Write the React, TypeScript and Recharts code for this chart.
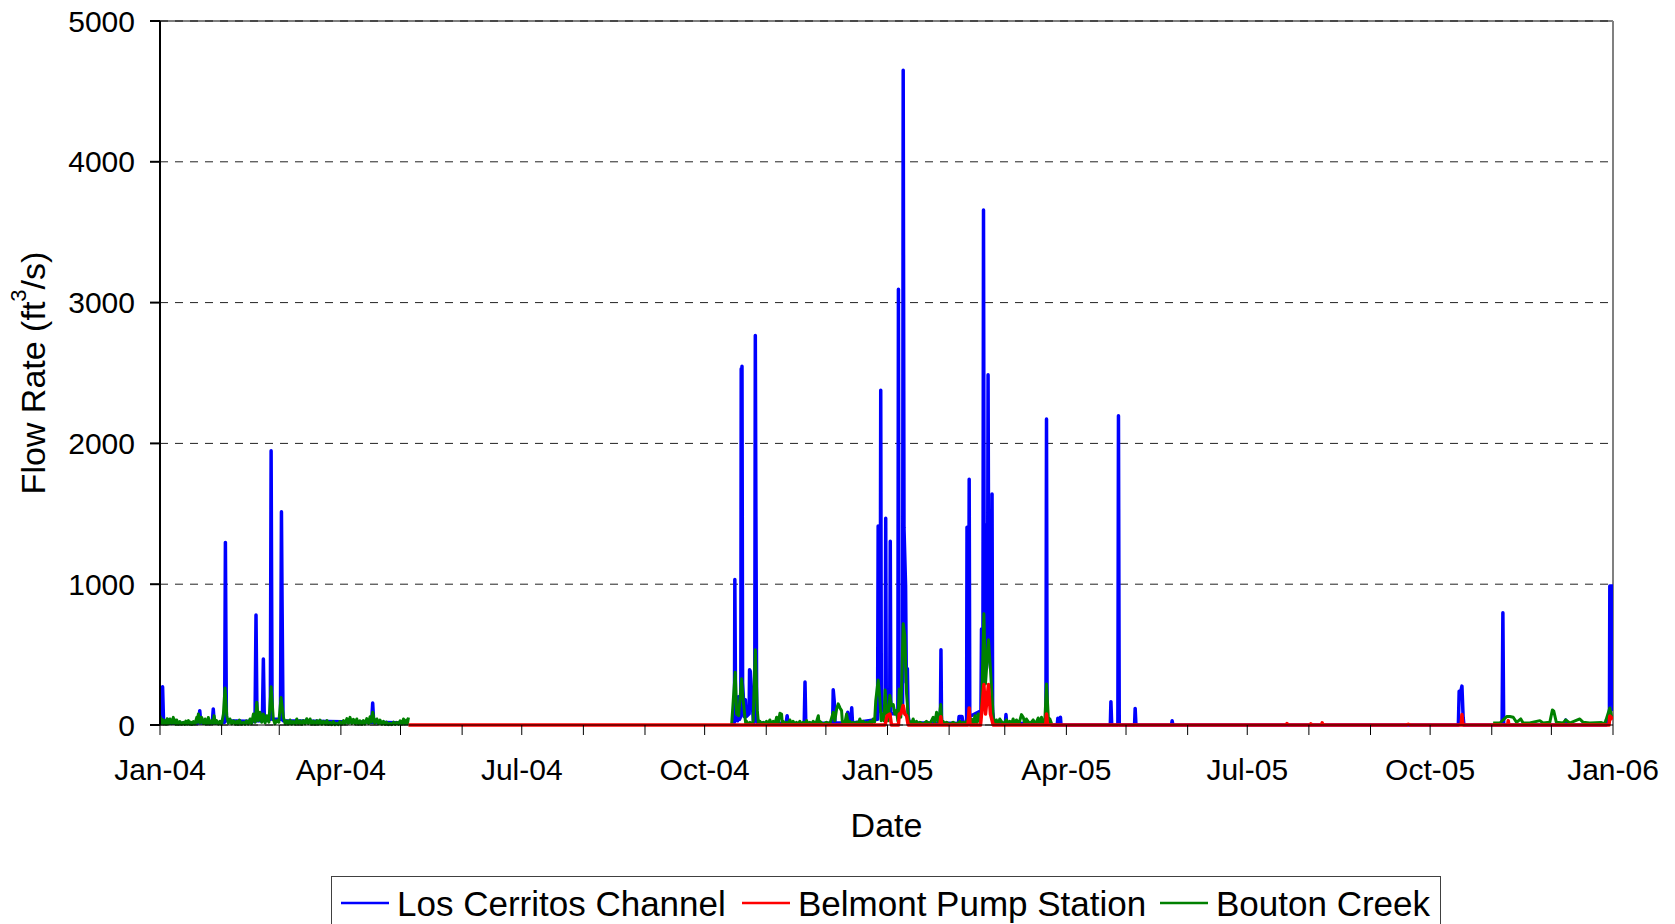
import React from 'react';
import { LineChart, Line, XAxis, YAxis, CartesianGrid, ReferenceLine, Label } from 'recharts';

type P = [number, number | null];

// day offsets from 1 Jan 2004 for month starts
const monthTicks = [0, 31, 60, 91, 121, 152, 182, 213, 244, 274, 305, 335, 366, 397, 425, 456, 486, 517, 547, 578, 609, 639, 670, 700, 731];
const quarterLabels: Record<number, string> = {
  0: 'Jan-04', 91: 'Apr-04', 182: 'Jul-04', 274: 'Oct-04', 366: 'Jan-05',
  456: 'Apr-05', 547: 'Jul-05', 639: 'Oct-05', 731: 'Jan-06',
};
const yTicks = [0, 1000, 2000, 3000, 4000, 5000];
const seriesNames = ['Los Cerritos Channel', 'Belmont Pump Station', 'Bouton Creek'];
const seriesColors = ['#0000FF', '#FF0000', '#008000'];

// Los Cerritos Channel [day, ft3/s]
const losCerritos2004: P[] = [
  [0, 15], [0.9, 15], [1.3, 272], [1.8, 15], [3, 12], [19.5, 15], [20, 102], [20.5, 15], [26.3, 15], [26.8, 114], [27.3, 15],
  [32.5, 20], [32.9, 1297], [33.4, 30], [47.8, 25], [48.3, 781], [48.8, 30], [51.5, 30], [52, 469], [52.5, 30],
  [55.5, 40], [55.9, 1948], [56.4, 40], [60.6, 40], [61.1, 1515], [61.4, 895], [61.9, 30], [106.5, 20], [107, 156],
  [107.5, 20], [125, 15],
];
const losCerritos0405: P[] = [
  [288, 0], [289, 20], [289.2, 1034], [289.6, 40], [290.6, 30], [291, 200], [291.5, 40], [292.2, 60], [292.4, 2530],
  [292.6, 1800], [292.8, 2548], [293.1, 300], [294, 60], [294.5, 180], [295, 60], [296.4, 80], [296.6, 393], [297, 380],
  [298.6, 10], [299.2, 40], [299.5, 2767], [299.8, 1480], [300.2, 60], [300.6, 15], [315, 10], [315.5, 66], [316, 10],
  [324.1, 10], [324.5, 305], [324.9, 10], [338.4, 15], [338.7, 250], [339.2, 170], [339.6, 15], [345.6, 15], [346, 90],
  [346.5, 25], [347.6, 30], [348, 122], [348.4, 15], [361, 40], [361.3, 1414], [361.7, 100], [362.3, 100], [362.6, 2378],
  [362.9, 120], [364.8, 80], [365.1, 1469], [365.4, 100], [367.1, 60], [367.4, 1305], [367.7, 80], [371.2, 80],
  [371.5, 3095], [371.8, 200], [373.6, 150], [373.9, 4650], [374.3, 1400], [375.1, 993], [375.5, 300], [376, 400],
  [376.4, 60], [377, 15], [392.6, 15], [392.9, 535], [393.2, 15], [401.7, 10], [402, 60], [403.5, 60], [404, 10],
  [405.8, 30], [406, 1404], [406.4, 200], [406.8, 300], [407.1, 1746], [407.4, 60], [413, 100], [413.3, 682],
  [413.6, 300], [414, 400], [414.3, 3657], [414.7, 500], [415.3, 1422], [415.7, 400], [416.3, 500], [416.6, 2487],
  [417, 600], [417.5, 1400], [417.9, 400], [418.3, 400], [418.6, 1640], [418.9, 100], [419.5, 15], [425.3, 10],
  [425.6, 74], [426, 10], [445.7, 15], [446, 2173], [446.3, 60], [446.7, 10], [449, 0], [451.4, 0], [451.7, 48],
  [452.1, 0], [452.7, 0], [453, 55], [453.3, 0], [478.1, 0], [478.4, 166], [478.8, 0], [481.9, 0], [482.2, 2197],
  [482.6, 0], [490.3, 0], [490.6, 118], [491, 0], [508.9, 0], [509.2, 30], [509.6, 0], [653.2, 0], [653.6, 240],
  [654.3, 230], [655, 276], [655.6, 55], [656, 0], [675.2, 0], [675.6, 798], [676, 0], [707, 0], [707.2, 36],
  [707.6, 0], [727.5, 0], [727.7, 36], [728, 10], [729.2, 50], [729.4, 988], [730.8, 988], [731, 100],
];

// Belmont Pump Station
const belmont: P[] = [
  [125, 0], [364.8, 0], [365.8, 66], [367.2, 78], [368, 0], [371.5, 0], [371.9, 78], [372.7, 78], [373.9, 138],
  [374.7, 78], [375.6, 66], [376.4, 0], [392.4, 0], [392.8, 59], [393.2, 0], [406.5, 0], [407.1, 121], [407.5, 0],
  [412.8, 0], [413.3, 78], [414.5, 287], [415.3, 78], [416.8, 287], [417.8, 78], [419.2, 0], [445.6, 0], [446, 78],
  [446.5, 0], [566.5, 0], [567, 10], [567.5, 0], [578.6, 0], [579, 8], [579.4, 0], [584.3, 0], [584.7, 15],
  [585.2, 0], [627, 0], [628, 5], [629, 0], [654.6, 0], [655, 74], [655.5, 0], [678, 0], [678.3, 31], [678.6, 0],
  [729, 0], [729.4, 64], [731, 40],
];

// Bouton Creek
const bouton2004: P[] = [
  [0, 66], [0.6, 10], [1.2, 40], [1.9, 8], [2.5, 31], [3.1, 6], [3.6, 45], [4.3, 8], [5, 43], [5.8, 10], [6.7, 54],
  [7.1, 12], [7.5, 35], [8, 6], [8.4, 36], [9.2, 5], [10, 25], [10.8, 6], [11.7, 19], [12.4, 4], [13, 28], [13.7, 6],
  [14.3, 31], [14.9, 5], [15.5, 20], [16.1, 4], [16.8, 24], [17.6, 8], [18.5, 54], [18.9, 20], [19.3, 78], [20.2, 15],
  [21, 54], [21.8, 10], [22.7, 43], [23.1, 8], [23.5, 30], [23.9, 10], [24.3, 54], [25.1, 8], [26, 31], [26.6, 10],
  [27.2, 66], [27.9, 10], [28.5, 31], [29.4, 6], [30.2, 26], [31, 8], [31.9, 78], [32.7, 263], [33.6, 66], [34.4, 12],
  [35.2, 43], [36.1, 8], [37, 30], [37.8, 6], [38.6, 26], [39.3, 5], [40, 35], [41, 6], [42, 19], [42.8, 5], [43.5, 30],
  [44.4, 6], [45.3, 43], [46.1, 10], [47, 78], [47.9, 20], [48.7, 161], [49.5, 30], [50.3, 90], [51.2, 20], [52, 78],
  [52.9, 15], [53.7, 66], [54.8, 20], [55.9, 272], [57, 43], [57.8, 8], [58.7, 31], [59.8, 20], [60.9, 196], [62.1, 54],
  [63, 8], [63.8, 30], [64.6, 6], [65.4, 36], [66.2, 5], [67, 25], [67.9, 6], [68.8, 43], [69.6, 8], [70.5, 30],
  [71.3, 5], [72.1, 31], [73, 8], [73.8, 45], [74.6, 10], [75.5, 43], [76.3, 6], [77.2, 28], [78, 5], [78.9, 31],
  [79.7, 6], [80.5, 35], [81.4, 5], [82.2, 26], [83.1, 5], [84, 32], [84.8, 4], [85.6, 19], [86.4, 3], [87.2, 25],
  [88, 3], [88.9, 12], [89.7, 3], [90.5, 25], [91.4, 5], [92.3, 31], [93.1, 8], [94, 45], [94.8, 12], [95.6, 54],
  [96.5, 10], [97.3, 40], [98.2, 8], [99, 43], [99.8, 6], [100.6, 30], [101.5, 5], [102.3, 31], [103.1, 6], [104, 45],
  [104.9, 10], [105.7, 59], [106.3, 20], [107, 90], [108, 12], [109.1, 43], [109.9, 8], [110.7, 35], [111.6, 5],
  [112.4, 26], [113.2, 4], [114, 20], [114.9, 3], [115.8, 12], [116.6, 3], [117.5, 20], [118.3, 4], [119.1, 19],
  [120, 5], [120.8, 30], [121.7, 6], [122.5, 43], [123.2, 8], [124, 35], [124.5, 10], [125, 54],
];
const bouton0405: P[] = [
  [287.6, 7], [288.4, 173], [289.4, 375], [290.1, 78], [291.1, 66], [292.6, 328], [293.4, 173], [294.3, 55],
  [294.7, 8], [295.1, 26], [296, 5], [296.8, 19], [297.6, 5], [298.4, 26], [299.5, 534], [300.5, 102], [301.1, 10],
  [301.8, 26], [302.7, 5], [303.5, 19], [304.3, 5], [305.1, 26], [306, 6], [306.8, 36], [307.7, 5], [308.5, 26],
  [309.4, 8], [310.2, 55], [311, 12], [311.9, 83], [312.7, 78], [313.1, 10], [313.5, 26], [314.4, 5], [315.2, 19],
  [316, 5], [316.9, 36], [317.7, 6], [318.5, 26], [319.4, 4], [320.2, 19], [321, 4], [321.9, 26], [322.7, 4],
  [323.6, 19], [324.4, 5], [325.3, 31], [326.1, 5], [326.9, 19], [327.8, 4], [328.6, 26], [329.9, 6], [331.2, 66],
  [331.6, 10], [332, 26], [333.6, 5], [335.3, 19], [337, 8], [338.7, 90], [339.5, 30], [340.4, 114], [341.2, 150],
  [342.1, 121], [342.9, 102], [343.3, 20], [343.7, 26], [344.5, 8], [345.4, 78], [346.2, 10], [347.1, 26], [347.9, 5],
  [348.8, 19], [349.6, 4], [350.4, 19], [351.3, 6], [352.1, 43], [353, 6], [353.8, 26], [354.6, 4], [355.5, 19],
  [356.3, 5], [357.1, 26], [358, 6], [358.8, 43], [359.5, 20], [360.1, 173], [361.3, 320], [362.1, 197], [362.8, 30],
  [363.5, 78], [364.2, 30], [364.8, 249], [365.5, 102], [366.4, 30], [367.2, 209], [368, 137], [368.9, 145],
  [369.7, 78], [370.5, 102], [371.2, 30], [371.9, 256], [372.7, 55], [373.9, 719], [374.7, 636], [375.6, 221],
  [376.4, 66], [376.8, 10], [377.2, 26], [378, 5], [378.9, 43], [379.7, 6], [380.6, 26], [381.4, 4], [382.3, 19],
  [384, 5], [385.6, 26], [387.3, 6], [389, 55], [389.8, 15], [390.7, 90], [391.7, 20], [392.8, 145], [393.4, 20],
  [394, 26], [394.8, 4], [395.7, 19], [397.3, 4], [399, 19], [400.7, 4], [402.4, 26], [403.2, 4], [404.1, 19],
  [405, 4], [405.8, 26], [406.5, 15], [407.1, 80], [407.8, 10], [408.5, 40], [409.2, 8], [410, 66], [410.8, 12],
  [411.6, 78], [412.5, 20], [413.3, 102], [414.5, 790], [415.3, 292], [416.8, 605], [417.8, 399], [419.2, 55],
  [420, 8], [420.8, 36], [421.6, 6], [422.5, 43], [424.2, 6], [425.9, 36], [426.7, 6], [427.5, 26], [428.4, 5],
  [429.2, 43], [430, 6], [430.9, 36], [432.1, 8], [433.4, 74], [434.3, 55], [435.1, 8], [435.9, 43], [437.6, 6],
  [439.3, 36], [440.5, 6], [441.8, 50], [442.6, 8], [443.5, 55], [444.3, 8], [445.2, 43], [446, 292], [446.9, 55],
  [447.3, 10], [447.7, 43], [448.6, 7],
];
const bouton2005: P[] = [
  [670.7, 14], [674.1, 14], [677.5, 60], [679.1, 60], [680.8, 55], [682.5, 19], [684.6, 43], [685.8, 14],
  [689.1, 14], [694.2, 31], [695.8, 14], [699.2, 19], [700.5, 107], [701.2, 98], [702.5, 19], [705.9, 14],
  [707.2, 36], [709.2, 14], [714.3, 43], [716, 19], [719.3, 14], [725.2, 17], [726.9, 10], [729.4, 121], [730.4, 50],
];

const toRows = (...segs: P[][]) =>
  segs
    .flatMap((s, i) => (i === 0 ? s : [[s[0][0] - 0.3, null] as P, ...s]))
    .map(([t, v]) => ({ t, v }));

const blueRows = toRows(losCerritos2004, losCerritos0405);
const redRows = toRows(belmont);
const greenRows = toRows(bouton2004, bouton0405, bouton2005);

const FONT = '"Liberation Sans", Arial, sans-serif';

const YTitle = (props: any) => {
  const vb = props.viewBox || { x: 0, y: 21, width: 160, height: 704 };
  const cy = vb.y + vb.height / 2;
  const x = 45;
  return (
    <text x={x} y={cy} transform={`rotate(-90, ${x}, ${cy})`} textAnchor="middle" fontSize={34} fontFamily={FONT} fill="#000">
      Flow Rate (ft<tspan fontSize={22} dy={-19}>3</tspan><tspan dy={19}>/s)</tspan>
    </text>
  );
};

const XTitle = (props: any) => {
  const vb = props.viewBox || { x: 160, y: 725, width: 1453, height: 199 };
  const cx = vb.x + vb.width / 2;
  return (
    <text x={cx} y={837} textAnchor="middle" fontSize={34} fontFamily={FONT} fill="#000">
      Date
    </text>
  );
};

const legendLayout = [
  { line: [341, 389], textX: 397 },
  { line: [742, 790], textX: 798 },
  { line: [1160, 1208], textX: 1216 },
];

export default function App() {
  return (
    <div style={{ position: 'absolute', left: 0, top: 0, width: 1675, height: 924, background: '#fff', overflow: 'hidden' }}>
      <LineChart width={1675} height={924} margin={{ top: 21, right: 62, left: 0, bottom: 0 }}>
        <CartesianGrid vertical={false} stroke="#222" strokeDasharray="8 7" strokeWidth={1} />
        <XAxis
          dataKey="t"
          type="number"
          domain={[0, 731]}
          allowDataOverflow
          ticks={monthTicks}
          interval={0}
          tickFormatter={(d: number) => quarterLabels[d] || ''}
          height={199}
          tickSize={10}
          tickMargin={24}
          stroke="#000"
          tick={{ fontSize: 30, fontFamily: FONT, fill: '#000' }}
        >
          <Label content={<XTitle />} />
        </XAxis>
        <YAxis
          type="number"
          domain={[0, 5000]}
          ticks={yTicks}
          interval={0}
          width={160}
          tickSize={10}
          tickMargin={15}
          stroke="#000"
          strokeWidth={2}
          tick={{ fontSize: 30, fontFamily: FONT, fill: '#000' }}
        >
          <Label content={<YTitle />} />
        </YAxis>
        <ReferenceLine y={5000} stroke="#000" strokeWidth={1} />
        <ReferenceLine x={731} stroke="#808080" strokeWidth={2} />
        <Line data={blueRows} dataKey="v" stroke={seriesColors[0]} strokeWidth={3.5} dot={false} activeDot={false}
          isAnimationActive={false} connectNulls={false} strokeLinejoin="round" name={seriesNames[0]} />
        <Line data={greenRows} dataKey="v" stroke={seriesColors[2]} strokeWidth={3} dot={false} activeDot={false}
          isAnimationActive={false} connectNulls={false} strokeLinejoin="round" name={seriesNames[2]} />
        <Line data={redRows} dataKey="v" stroke={seriesColors[1]} strokeWidth={3.5} dot={false} activeDot={false}
          isAnimationActive={false} connectNulls={false} strokeLinejoin="round" name={seriesNames[1]} />
      </LineChart>
      <svg width={1675} height={924} style={{ position: 'absolute', left: 0, top: 0, pointerEvents: 'none' }}>
        <rect x={331.5} y={876.5} width={1109} height={70} fill="#fff" stroke="#404040" strokeWidth={1} />
        {legendLayout.map((l, i) => (
          <g key={i}>
            <line x1={l.line[0]} x2={l.line[1]} y1={903} y2={903} stroke={seriesColors[i]} strokeWidth={2.5} />
            <text x={l.textX} y={916} fontSize={35} fontFamily={FONT} fill="#000">{seriesNames[i]}</text>
          </g>
        ))}
      </svg>
    </div>
  );
}
